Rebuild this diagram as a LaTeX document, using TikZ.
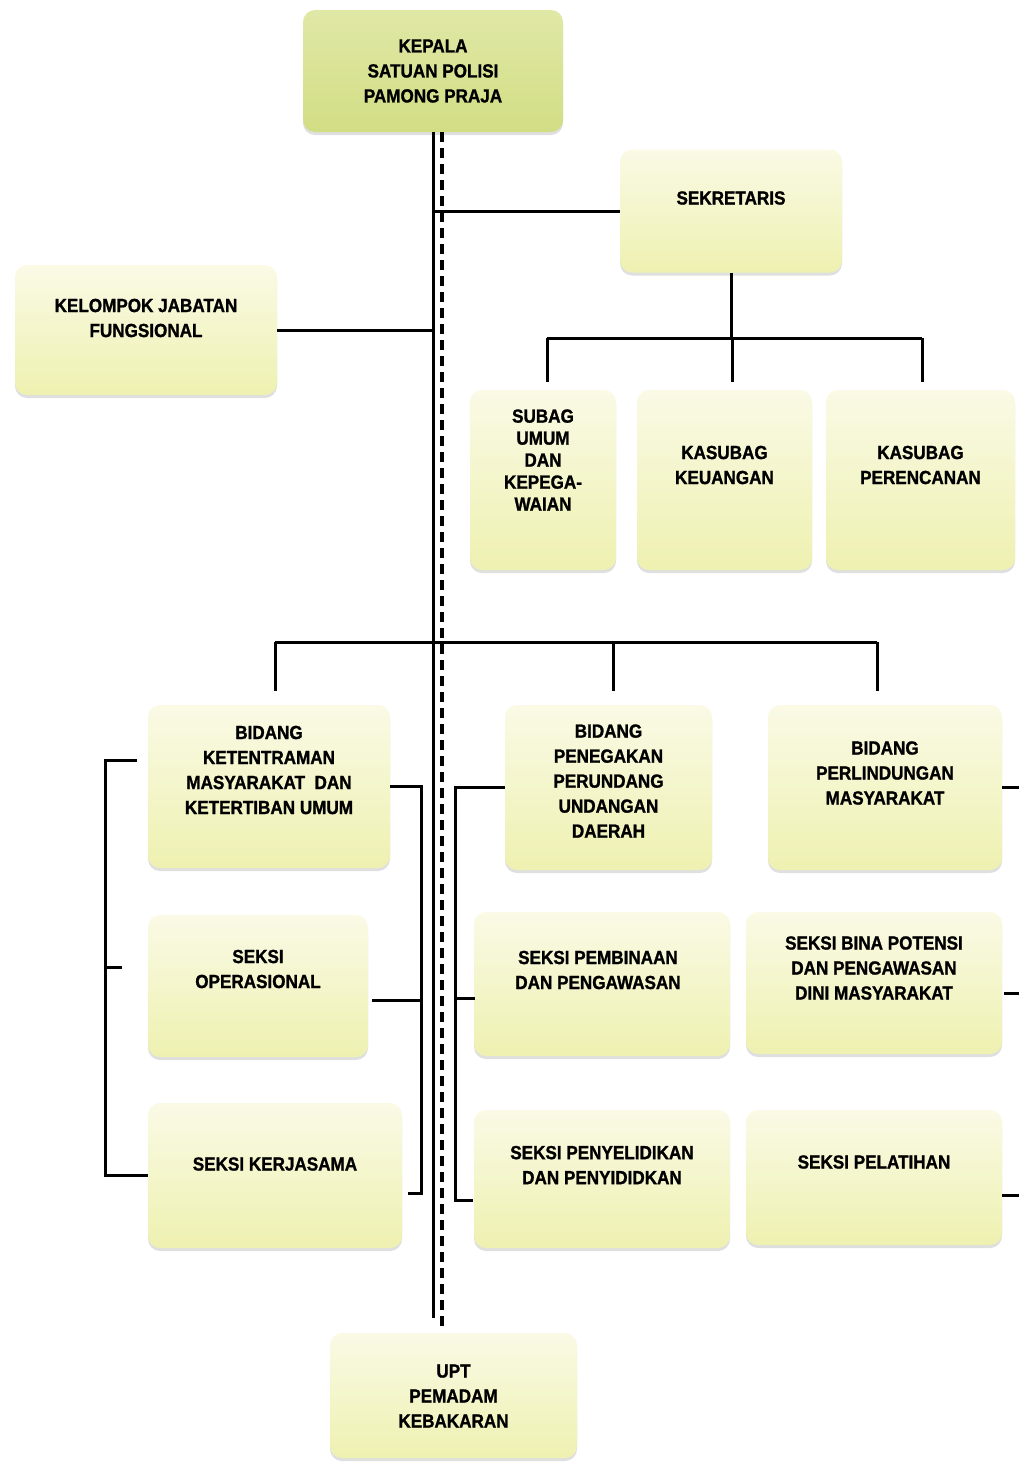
\documentclass[tikz,border=0pt]{standalone}
\usepackage{fontspec}
\setmainfont{Liberation Sans}[FakeStretch=0.9, BoldFeatures={FakeBold=1.2}]
\usetikzlibrary{shadows,calc}
\definecolor{boxtop}{RGB}{250,250,230}
\definecolor{boxbot}{RGB}{238,241,176}
\definecolor{headtop}{RGB}{224,232,166}
\definecolor{headbot}{RGB}{210,222,132}
\tikzset{
  box/.style={rounded corners=6pt, inner sep=0pt, top color=boxtop, bottom color=boxbot,
    drop shadow={shadow xshift=0pt, shadow yshift=-1.5pt, opacity=0.25}},
  headbox/.style={box, top color=headtop, bottom color=headbot},
  lbl/.style={align=center, font=\fontsize{9.5}{12.5}\selectfont\bfseries, text=black, inner sep=0pt},
  conn/.style={line width=1.5pt, black},
  dashconn/.style={line width=2pt, black, dash pattern=on 5pt off 3pt},
}
\begin{document}
\begin{tikzpicture}[x=0.5pt,y=-0.5pt]
\useasboundingbox (0,0) rectangle (1018,1462);
\fill[white] (0,0) rectangle (1018,1462);

% boxes
\node[headbox, minimum width=130pt, minimum height=61pt] (kepala) at (433,71) {};
\node[lbl] (kepala-t) at (433,71) {KEPALA\\SATUAN POLISI\\PAMONG PRAJA};

\node[box, minimum width=111pt, minimum height=61.5pt] (sek) at (731,211) {};
\node[lbl] (sek-t) at (731,198) {SEKRETARIS};

\node[box, minimum width=131pt, minimum height=65pt] (kjf) at (146,330) {};
\node[lbl] (kjf-t) at (146,318) {KELOMPOK JABATAN\\FUNGSIONAL};

\node[box, minimum width=73pt, minimum height=90pt] (subag) at (543,480) {};
\node[lbl, font=\fontsize{9.5}{11}\selectfont\bfseries] (subag-t) at (543,460) {SUBAG\\UMUM\\DAN\\KEPEGA-\\WAIAN};

\node[box, minimum width=87.5pt, minimum height=90pt] (keu) at (724.5,480) {};
\node[lbl] (keu-t) at (724.5,465) {KASUBAG\\KEUANGAN};

\node[box, minimum width=94.5pt, minimum height=90pt] (per) at (920.5,480) {};
\node[lbl] (per-t) at (920.5,465) {KASUBAG\\PERENCANAN};

\node[box, minimum width=121pt, minimum height=81.5pt] (ket) at (269,786.5) {};
\node[lbl] (ket-t) at (269,770) {BIDANG\\KETENTRAMAN\\MASYARAKAT~ DAN\\KETERTIBAN UMUM};

\node[box, minimum width=103.5pt, minimum height=82.5pt] (pen) at (608.5,787.5) {};
\node[lbl] (pen-t) at (608.5,781) {BIDANG\\PENEGAKAN\\PERUNDANG\\UNDANGAN\\DAERAH};

\node[box, minimum width=117pt, minimum height=82.5pt] (perl) at (885,787.5) {};
\node[lbl] (perl-t) at (885,773) {BIDANG\\PERLINDUNGAN\\MASYARAKAT};

\node[box, minimum width=110pt, minimum height=71pt] (ops) at (258,986) {};
\node[lbl] (ops-t) at (258,969) {SEKSI\\OPERASIONAL};

\node[box, minimum width=127pt, minimum height=72.5pt] (ker) at (275,1175.5) {};
\node[lbl] (ker-t) at (275,1164) {SEKSI KERJASAMA};

\node[box, minimum width=128pt, minimum height=72pt] (pemb) at (602,984) {};
\node[lbl] (pemb-t) at (598,970) {SEKSI PEMBINAAN\\DAN PENGAWASAN};

\node[box, minimum width=128pt, minimum height=69pt] (peny) at (602,1179) {};
\node[lbl] (peny-t) at (602,1165) {SEKSI PENYELIDIKAN\\DAN PENYIDIDKAN};

\node[box, minimum width=128pt, minimum height=71pt] (bina) at (874,983) {};
\node[lbl] (bina-t) at (874,968) {SEKSI BINA POTENSI\\DAN PENGAWASAN\\DINI MASYARAKAT};

\node[box, minimum width=128pt, minimum height=67.5pt] (pel) at (874,1177.5) {};
\node[lbl] (pel-t) at (874,1162) {SEKSI PELATIHAN};

\node[box, minimum width=123.5pt, minimum height=62.5pt] (upt) at (453.5,1395.5) {};
\node[lbl] (upt-t) at (453.5,1396) {UPT\\PEMADAM\\KEBAKARAN};

% main spine
\coordinate (mainend) at (433,1318);
\coordinate (dashend) at (442,1328);
\draw[conn] (kepala.south) -- (mainend);
\draw[dashconn] (kepala.south -| dashend) -- (dashend);

% sekretaris and kjf to spine
\draw[conn] (sek.west) -- (sek.west -| mainend);
\draw[conn] (kjf.east) -- (kjf.east -| mainend);

% sekretaris tree
\coordinate (sbar) at (731,338);
\coordinate (sbl) at (547,338);
\coordinate (sbm) at (732,338);
\coordinate (sbr) at (922,338);
\draw[conn] (sek.south) -- (sbar);
\draw[conn] (sbl) -- (sbr);
\draw[conn, shorten >=4pt] (sbl) -- (sbl |- subag.north);
\draw[conn, shorten >=4pt] (sbm) -- (sbm |- keu.north);
\draw[conn, shorten >=4pt] (sbr) -- (sbr |- per.north);

% bidang bar
\coordinate (bl) at (275,642);
\coordinate (bm) at (613,642);
\coordinate (br) at (877,642);
\draw[conn] (bl) -- (br);
\draw[conn, shorten >=7pt] (bl) -- (bl |- ket.north);
\draw[conn, shorten >=7pt] (bm) -- (bm |- pen.north);
\draw[conn, shorten >=7pt] (br) -- (br |- perl.north);

% bracket A (left of ketentraman)
\coordinate (aT) at (137,760);
\coordinate (aM) at (122,967);
\coordinate (aX) at (105,0);
\draw[conn] (aT) -- (aT -| aX) -- (aX |- ker.west) -- (ker.west);
\draw[conn] (aM) -- (aM -| aX);

% bracket B (right of ketentraman)
\coordinate (bX) at (421,0);
\coordinate (bB) at (408,1193);
\coordinate (bM) at (372,1000);
\draw[conn] (ket.east) -- (ket.east -| bX) -- (bX |- bB) -- (bB);
\draw[conn] (bM) -- (bM -| bX);

% bracket C (left of penegakan)
\coordinate (cX) at (455,0);
\coordinate (cB) at (473,1200);
\coordinate (cM) at (475,998);
\draw[conn] (pen.west) -- (pen.west -| cX) -- (cX |- cB) -- (cB);
\draw[conn] (cM) -- (cM -| cX);

% bracket D (right of perlindungan)
\coordinate (dX) at (1026,0);
\coordinate (dM) at (1004,993);
\coordinate (dB) at (1002,1195);
\draw[conn] (perl.east) -- (perl.east -| dX) -- (dX |- dB) -- (dB);
\draw[conn] (dM) -- (dM -| dX);
\end{tikzpicture}
\end{document}
